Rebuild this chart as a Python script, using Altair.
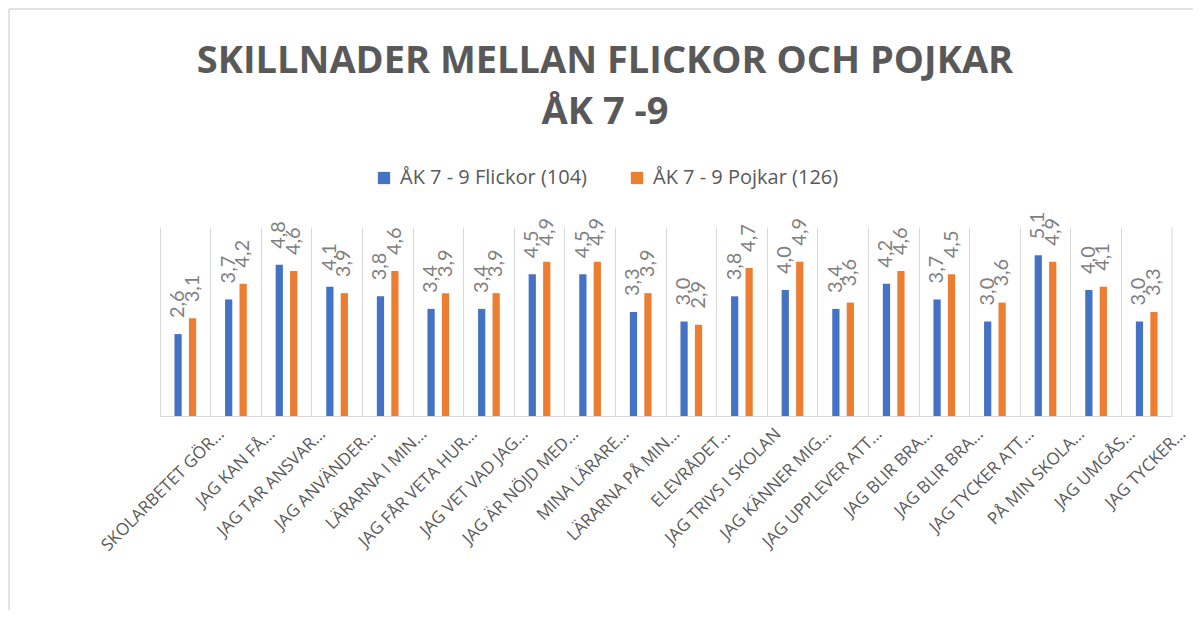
import json
import altair as alt
import pandas as pd

# ---- data ----
categories = [
    "SKOLARBETET GÖR…", "JAG KAN FÅ…", "JAG TAR ANSVAR…", "JAG ANVÄNDER…",
    "LÄRARNA I MIN…", "JAG FÅR VETA HUR…", "JAG VET VAD JAG…", "JAG ÄR NÖJD MED…",
    "MINA LÄRARE…", "LÄRARNA PÅ MIN…", "ELEVRÅDET…", "JAG TRIVS I SKOLAN",
    "JAG KÄNNER MIG…", "JAG UPPLEVER ATT…", "JAG BLIR BRA…", "JAG BLIR BRA…",
    "JAG TYCKER ATT…", "PÅ MIN SKOLA…", "JAG UMGÅS…", "JAG TYCKER…",
]
flickor = [2.6, 3.7, 4.8, 4.1, 3.8, 3.4, 3.4, 4.5, 4.5, 3.3,
           3.0, 3.8, 4.0, 3.4, 4.2, 3.7, 3.0, 5.1, 4.0, 3.0]
pojkar = [3.1, 4.2, 4.6, 3.9, 4.6, 3.9, 3.9, 4.9, 4.9, 3.9,
          2.9, 4.7, 4.9, 3.6, 4.6, 4.5, 3.6, 4.9, 4.1, 3.3]
series = ["ÅK 7 - 9 Flickor (104)", "ÅK 7 - 9 Pojkar (126)"]
colors = ["#4472C4", "#ED7D31"]
title_lines = ["SKILLNADER MELLAN FLICKOR OCH POJKAR", "ÅK 7 -9"]

rows = []
for i, c in enumerate(categories):
    rows.append({"idx": i, "series": series[0], "value": flickor[i]})
    rows.append({"idx": i, "series": series[1], "value": pojkar[i]})
df = pd.DataFrame(rows)

W, H = 1012, 189
step = W / len(categories)
GRID = "#D9D9D9"
label_expr = json.dumps(categories, ensure_ascii=False) + "[datum.value]"

x_enc = alt.X(
    "idx:O",
    scale=alt.Scale(paddingInner=0, paddingOuter=0),
    axis=alt.Axis(
        title=None, labelExpr=label_expr, labelAngle=-45, labelAlign="right",
        labelBaseline="middle", labelFont="Open Sans", labelFontSize=17,
        labelColor="#595959", labelPadding=15, labelOffset=step / 2 + 11,
        bandPosition=0, ticks=False, domainColor=GRID, domainWidth=1,
        grid=True, gridColor=GRID, gridWidth=1, labelLimit=400,
    ),
)
y_enc = alt.Y("value:Q", scale=alt.Scale(domain=[0, 6]), axis=None)
xoff = alt.XOffset("series:N", sort=series,
                   scale=alt.Scale(paddingInner=0.5, paddingOuter=1))
color = alt.Color(
    "series:N",
    scale=alt.Scale(domain=series, range=colors),
    legend=alt.Legend(
        title=None, orient="none", legendX=214, legendY=-59,
        direction="horizontal", symbolType="square", symbolSize=150,
        symbolStrokeWidth=0, labelFont="Open Sans", labelFontSize=20,
        labelColor="#595959", columnPadding=40, labelOffset=6, padding=0,
        labelLimit=400,
    ),
)

base = alt.Chart(df)
bars = base.mark_bar().encode(x=x_enc, y=y_enc, xOffset=xoff, color=color)
labels = base.transform_calculate(
    label="replace(format(datum.value, '.1f'), '.', ',')"
).mark_text(
    angle=270, align="left", baseline="middle", dx=16,
    font="Lato", fontSize=20, color="#7F7F7F",
).encode(x=x_enc, y=y_enc, xOffset=xoff, text="label:N")

one = alt.Data(values=[{"k": 1}])
right_grid = alt.Chart(one).mark_rule(color=GRID, strokeWidth=1).encode(
    x=alt.value(W), y=alt.value(0), y2=alt.value(H))
frame_top = alt.Chart(one).mark_rule(color=GRID, strokeWidth=1.5).encode(
    x=alt.value(-151), x2=alt.value(1041), y=alt.value(-218))
frame_left = alt.Chart(one).mark_rule(color=GRID, strokeWidth=1.5).encode(
    x=alt.value(-151), y=alt.value(-218), y2=alt.value(400))

chart = alt.layer(frame_top, frame_left, right_grid, bars, labels).properties(
    width=W, height=H,
    autosize=alt.AutoSizeParams(type="none"),
    padding={"left": 152, "top": 219, "right": 21, "bottom": 194},
    title=alt.Title(
        title_lines, font="Open Sans", fontSize=38, fontWeight="bold",
        color="#595959", lineHeight=51, anchor="middle", frame="group",
        baseline="alphabetic", dx=-61, dy=154, offset=0,
    ),
    background="white",
).configure_view(stroke=None)

chart.save("out.html", embed_options={"renderer": "svg", "actions": False})
